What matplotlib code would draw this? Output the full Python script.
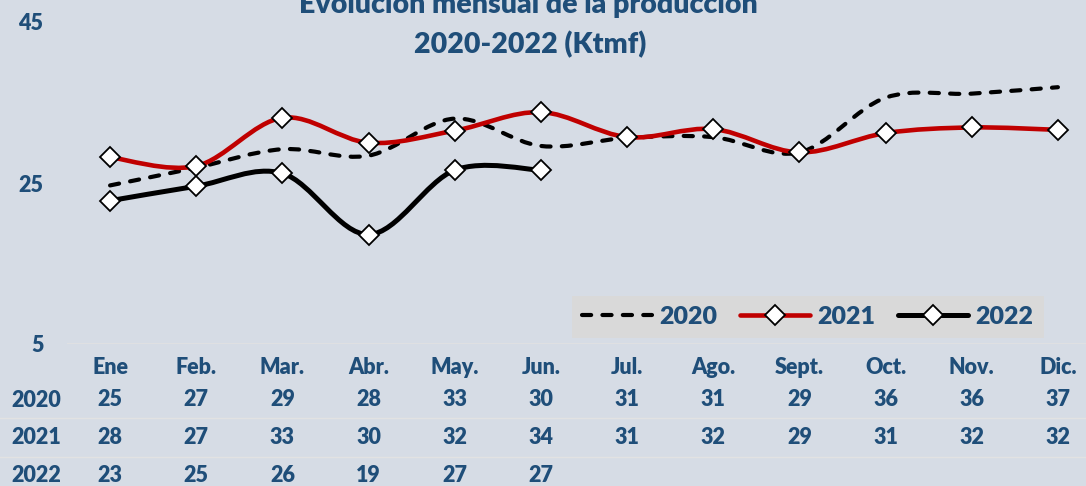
import matplotlib.pyplot as plt
from matplotlib.path import Path
from matplotlib.patches import PathPatch
from matplotlib.lines import Line2D

plt.rcParams['font.family'] = ['Lato', 'DejaVu Sans']

meses = ['Ene', 'Feb.', 'Mar.', 'Abr.', 'May.', 'Jun.', 'Jul.', 'Ago.',
         'Sept.', 'Oct.', 'Nov.', 'Dic.']
prod_2020 = [24.7, 26.9, 29.2, 28.4, 33.0, 29.6, 30.6, 30.7, 28.8, 35.6, 36.1, 36.9]
prod_2021 = [28.2, 27.1, 33.1, 30.0, 31.5, 33.8, 30.7, 31.7, 28.8, 31.2, 31.9, 31.6]
prod_2022 = [22.8, 24.6, 26.2, 18.6, 26.6, 26.6]

fondo = '#D6DCE5'
azul = '#1F4E79'
peso = 'heavy'


def suave(ax, xs, ys, **kw):
    # curva suavizada tipo Excel (bezier catmull-rom)
    pts = list(zip(xs, ys))
    verts = [pts[0]]
    codes = [Path.MOVETO]
    n = len(pts)
    for i in range(n - 1):
        p0 = pts[i - 1] if i > 0 else pts[i]
        p1 = pts[i]
        p2 = pts[i + 1]
        p3 = pts[i + 2] if i + 2 < n else pts[i + 1]
        c1 = (p1[0] + (p2[0] - p0[0]) / 6, p1[1] + (p2[1] - p0[1]) / 6)
        c2 = (p2[0] - (p3[0] - p1[0]) / 6, p2[1] - (p3[1] - p1[1]) / 6)
        verts += [c1, c2, p2]
        codes += [Path.CURVE4] * 3
    ax.add_patch(PathPatch(Path(verts, codes), fill=False, **kw))


fig = plt.figure(figsize=(10.86, 4.86), dpi=100, facecolor=fondo)
ax = fig.add_axes([67 / 1086, (486 - 344) / 486, 1034 / 1086, 322 / 486])
ax.set_facecolor(fondo)
ax.set_xlim(-0.5, 11.5)
ax.set_ylim(5, 45)
for s in ax.spines.values():
    s.set_visible(False)

x = list(range(len(meses)))
suave(ax, x, prod_2020, edgecolor='black', lw=3, linestyle=(0, (2.2, 2.7)),
      capstyle='round', zorder=3)
suave(ax, x, prod_2021, edgecolor='#C00000', lw=3.3, capstyle='round', zorder=4)
suave(ax, x[:len(prod_2022)], prod_2022, edgecolor='black', lw=3.6,
      capstyle='round', zorder=4)
ax.plot(x, prod_2021, ls='none', marker='D', ms=10, mfc='white', mec='black',
        mew=1.3, zorder=5)
ax.plot(x[:len(prod_2022)], prod_2022, ls='none', marker='D', ms=10,
        mfc='white', mec='black', mew=1.3, zorder=5)

ax.axhline(5, color='#E2E2E2', lw=1.2, zorder=1)
ax.set_yticks([5, 25, 45])
ax.set_yticklabels(['5', '25', '45'])
ax.tick_params(axis='y', length=0, pad=17, labelsize=15.5, labelcolor=azul)
for t in ax.get_yticklabels():
    t.set_fontweight(peso)
ax.set_xticks(x)
ax.set_xticklabels(meses)
ax.tick_params(axis='x', length=0, pad=9, labelsize=15.5, labelcolor=azul)
for t in ax.get_xticklabels():
    t.set_fontweight(peso)

# tabla de datos
tr = ax.get_xaxis_transform()
filas = [('2020', prod_2020, 400), ('2021', prod_2021, 437), ('2022', prod_2022, 475)]
for nombre, vals, ypix in filas:
    yf = 1 - ypix / 486
    fig.text(36 / 1086, yf, nombre, ha='center', va='center', fontsize=15.5,
             fontweight=peso, color=azul)
    for i, v in enumerate(vals):
        ax.text(i, (344 - ypix) / 322, f'{v:.0f}', transform=tr, ha='center',
                va='center', fontsize=15.5, fontweight=peso, color=azul,
                clip_on=False)
for ypix in [418, 457]:
    fig.add_artist(Line2D([0, 1], [1 - ypix / 486] * 2, color='#E2E2E2', lw=1))

# titulo
fig.text(528 / 1086, 1 - 5 / 486, 'Evolución mensual de la producción',
         ha='center', va='center', fontsize=20.5, fontweight=peso, color=azul)
fig.text(530 / 1086, 1 - 45 / 486, '2020-2022 (Ktmf)', ha='center',
         va='center', fontsize=20.5, fontweight=peso, color=azul)

# leyenda
h = [Line2D([], [], color='black', lw=3, ls=(0, (2.2, 2.7)),
            dash_capstyle='round'),
     Line2D([], [], color='#C00000', lw=3.3, marker='D', ms=10, mfc='white',
            mec='black', mew=1.3, solid_capstyle='round'),
     Line2D([], [], color='black', lw=3.6, marker='D', ms=10, mfc='white',
            mec='black', mew=1.3, solid_capstyle='round')]
leg = fig.legend(h, ['2020', '2021', '2022'], ncol=3, loc='center',
                 bbox_to_anchor=(808 / 1086, 1 - 317 / 486), frameon=True,
                 fancybox=False, facecolor='#D9D9D9', edgecolor='none',
                 framealpha=1, handlelength=2.8, handletextpad=0.3,
                 columnspacing=0.9, borderpad=0.4,
                 prop={'size': 18, 'weight': peso})
for t in leg.get_texts():
    t.set_color(azul)

fig.savefig('out.png', dpi=100, facecolor=fondo)
